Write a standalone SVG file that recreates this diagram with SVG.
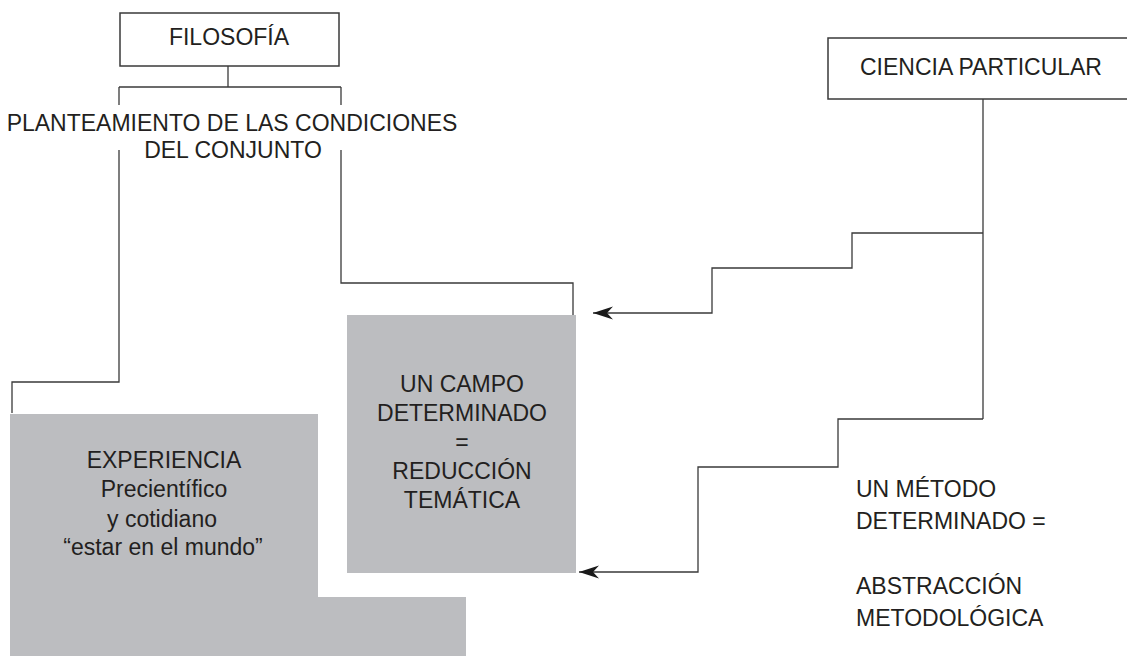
<svg xmlns="http://www.w3.org/2000/svg" width="1127" height="656" viewBox="0 0 1127 656">
<style>
.box{fill:#ffffff;stroke:#3a3a3a;stroke-width:1.5}
.gray{fill:#bcbdc0;stroke:none}
.ln{fill:none;stroke:#3a3a3a;stroke-width:1.3}
.t{font-family:"Liberation Sans",Arial,sans-serif;font-size:23px;fill:#231f20}
.c{text-anchor:middle}
</style>
<defs>
<marker id="arr" markerUnits="userSpaceOnUse" markerWidth="22" markerHeight="14" viewBox="0 -7 22 14" refX="20" refY="0" orient="auto">
<path d="M0,-6.5 L20,0 L0,6.5 L6,0 Z" fill="#1a1a1a"/>
</marker>
</defs>
<rect width="1127" height="656" fill="#ffffff"/>

<g id="connectors">
<path class="ln" d="M228,66 V87"/>
<path class="ln" d="M119,87 H341"/>
<path class="ln" d="M119,87 V105"/>
<path class="ln" d="M119,150 V382 H12 V413"/>
<path class="ln" d="M341,87 V105"/>
<path class="ln" d="M341,150 V283 H573 V315"/>
<path class="ln" d="M983,99 V419"/>
<path class="ln" d="M983,233 H852 V268 H712 V313 H593" marker-end="url(#arr)"/>
<path class="ln" d="M983,419 H838 V467 H698 V572 H579" marker-end="url(#arr)"/>
</g>

<g id="filosofia">
<rect class="box" x="120" y="13" width="219" height="53"/>
<text class="t c" x="229" y="45">FILOSOFÍA</text>
</g>

<g id="planteamiento">
<text class="t c" x="232" y="131">PLANTEAMIENTO DE LAS CONDICIONES</text>
<text class="t c" x="233" y="158">DEL CONJUNTO</text>
</g>

<g id="ciencia">
<rect class="box" x="828" y="38" width="305" height="61"/>
<text class="t c" x="981" y="75">CIENCIA PARTICULAR</text>
</g>

<g id="experiencia">
<path class="gray" d="M10,414 H318 V597 H466 V656 H10 Z"/>
<text class="t c" x="164" y="468">EXPERIENCIA</text>
<text class="t c" x="164" y="497">Precientífico</text>
<text class="t c" x="162" y="527">y cotidiano</text>
<text class="t c" x="163" y="555">“estar en el mundo”</text>
</g>

<g id="campo">
<rect class="gray" x="347" y="315" width="229" height="258"/>
<text class="t c" x="462" y="392">UN CAMPO</text>
<text class="t c" x="462" y="421">DETERMINADO</text>
<text class="t c" x="462" y="450">=</text>
<text class="t c" x="462" y="479">REDUCCIÓN</text>
<text class="t c" x="462" y="508">TEMÁTICA</text>
</g>

<g id="metodo">
<text class="t" x="856" y="497">UN MÉTODO</text>
<text class="t" x="856" y="529">DETERMINADO =</text>
<text class="t" x="856" y="594">ABSTRACCIÓN</text>
<text class="t" x="856" y="626">METODOLÓGICA</text>
</g>
</svg>
